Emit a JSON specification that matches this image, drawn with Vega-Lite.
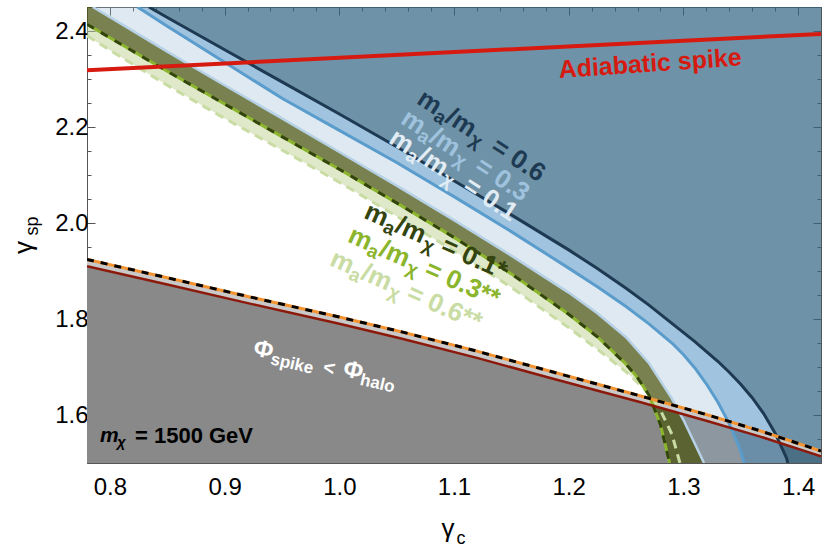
{
  "$schema": "https://vega.github.io/schema/vega-lite/v6.json",
  "width": 734,
  "height": 456,
  "autosize": {"type": "none"},
  "padding": {"left": 87, "top": 7, "right": 9, "bottom": 86},
  "background": "white",
  "config": {"view": {"stroke": "#555", "strokeWidth": 1}, "font": "Liberation Sans", "text": {"font": "Liberation Sans"}},
  "datasets": {
    "red": [{"x":0.78,"y":1.910},{"x":0.85,"y":1.872},{"x":0.922,"y":1.832},{"x":1.0,"y":1.790},{"x":1.053,"y":1.760},{"x":1.12,"y":1.719},{"x":1.184,"y":1.677},{"x":1.262,"y":1.627},{"x":1.32,"y":1.588},{"x":1.367,"y":1.555},{"x":1.42,"y":1.514}],
    "dashed": [{"x":0.78,"y":1.924},{"x":0.85,"y":1.886},{"x":0.922,"y":1.846},{"x":1.0,"y":1.804},{"x":1.053,"y":1.774},{"x":1.12,"y":1.733},{"x":1.184,"y":1.691},{"x":1.262,"y":1.640},{"x":1.32,"y":1.601},{"x":1.367,"y":1.567},{"x":1.42,"y":1.525}],
    "grayband": [{"x":0.78,"y":1.910,"y2":1.924},{"x":0.85,"y":1.872,"y2":1.886},{"x":0.922,"y":1.832,"y2":1.846},{"x":1.0,"y":1.790,"y2":1.804},{"x":1.053,"y":1.760,"y2":1.774},{"x":1.12,"y":1.719,"y2":1.733},{"x":1.184,"y":1.677,"y2":1.691},{"x":1.262,"y":1.627,"y2":1.640},{"x":1.32,"y":1.588,"y2":1.601},{"x":1.367,"y":1.555,"y2":1.567},{"x":1.42,"y":1.514,"y2":1.525}],
    "navy": [{"x":0.834,"y":2.45},{"x":0.85,"y":2.428},{"x":0.90,"y":2.361},{"x":0.95,"y":2.294},{"x":1.0,"y":2.227},{"x":1.05,"y":2.159},{"x":1.10,"y":2.088},{"x":1.15,"y":2.017},{"x":1.20,"y":1.944},{"x":1.225,"y":1.905},{"x":1.25,"y":1.864},{"x":1.27,"y":1.829},{"x":1.29,"y":1.791},{"x":1.31,"y":1.753},{"x":1.33,"y":1.712},{"x":1.34,"y":1.689},{"x":1.35,"y":1.664},{"x":1.36,"y":1.636},{"x":1.37,"y":1.603},{"x":1.38,"y":1.562},{"x":1.39,"y":1.51},{"x":1.391,"y":1.5},{"x":1.42,"y":1.5}],
    "blue03": [{"x":0.824,"y":2.45},{"x":0.85,"y":2.41},{"x":0.90,"y":2.335},{"x":0.95,"y":2.26},{"x":1.0,"y":2.193},{"x":1.05,"y":2.126},{"x":1.10,"y":2.055},{"x":1.15,"y":1.982},{"x":1.20,"y":1.906},{"x":1.225,"y":1.867},{"x":1.25,"y":1.826},{"x":1.27,"y":1.79},{"x":1.29,"y":1.75},{"x":1.30,"y":1.726},{"x":1.31,"y":1.698},{"x":1.32,"y":1.665},{"x":1.33,"y":1.627},{"x":1.34,"y":1.582},{"x":1.35,"y":1.525},{"x":1.353,"y":1.5},{"x":1.42,"y":1.5}],
    "light01": [{"x":0.785,"y":2.45},{"x":0.80,"y":2.429},{"x":0.85,"y":2.357},{"x":0.90,"y":2.287},{"x":0.95,"y":2.218},{"x":1.0,"y":2.148},{"x":1.05,"y":2.078},{"x":1.10,"y":2.006},{"x":1.15,"y":1.932},{"x":1.20,"y":1.855},{"x":1.225,"y":1.812},{"x":1.25,"y":1.762},{"x":1.27,"y":1.708},{"x":1.29,"y":1.634},{"x":1.30,"y":1.59},{"x":1.31,"y":1.54},{"x":1.318,"y":1.5},{"x":1.42,"y":1.5}],
    "green": [{"x":0.78,"y":2.414},{"x":0.80,"y":2.386},{"x":0.85,"y":2.316},{"x":0.90,"y":2.248},{"x":0.95,"y":2.18},{"x":1.0,"y":2.112},{"x":1.05,"y":2.042},{"x":1.10,"y":1.97},{"x":1.15,"y":1.894},{"x":1.20,"y":1.81},{"x":1.225,"y":1.763},{"x":1.25,"y":1.706},{"x":1.26,"y":1.678},{"x":1.27,"y":1.642},{"x":1.28,"y":1.58},{"x":1.288,"y":1.5}],
    "lightgreen": [{"x":0.78,"y":2.39},{"x":0.80,"y":2.36},{"x":0.85,"y":2.287},{"x":0.90,"y":2.218},{"x":0.95,"y":2.152},{"x":1.0,"y":2.085},{"x":1.05,"y":2.014},{"x":1.10,"y":1.942},{"x":1.15,"y":1.866},{"x":1.20,"y":1.782},{"x":1.225,"y":1.737},{"x":1.25,"y":1.69},{"x":1.26,"y":1.668},{"x":1.27,"y":1.643},{"x":1.28,"y":1.61},{"x":1.29,"y":1.56},{"x":1.297,"y":1.5}],
    "oliveband": [{"x":0.78,"y":2.414,"y2":2.45},{"x":0.785,"y":2.407,"y2":2.45},{"x":0.80,"y":2.386,"y2":2.429},{"x":0.85,"y":2.316,"y2":2.357},{"x":0.90,"y":2.248,"y2":2.287},{"x":0.95,"y":2.18,"y2":2.218},{"x":1.0,"y":2.112,"y2":2.148},{"x":1.05,"y":2.042,"y2":2.078},{"x":1.10,"y":1.97,"y2":2.006},{"x":1.15,"y":1.894,"y2":1.932},{"x":1.20,"y":1.81,"y2":1.855},{"x":1.225,"y":1.763,"y2":1.812},{"x":1.25,"y":1.706,"y2":1.762},{"x":1.26,"y":1.678,"y2":1.736},{"x":1.27,"y":1.642,"y2":1.708},{"x":1.28,"y":1.58,"y2":1.672},{"x":1.288,"y":1.5,"y2":1.642},{"x":1.29,"y":1.5,"y2":1.634},{"x":1.30,"y":1.5,"y2":1.59},{"x":1.31,"y":1.5,"y2":1.54},{"x":1.318,"y":1.5,"y2":1.5}],
    "lgband": [{"x":0.78,"y":2.39,"y2":2.414},{"x":0.80,"y":2.36,"y2":2.386},{"x":0.85,"y":2.287,"y2":2.316},{"x":0.90,"y":2.218,"y2":2.248},{"x":0.95,"y":2.152,"y2":2.18},{"x":1.0,"y":2.085,"y2":2.112},{"x":1.05,"y":2.014,"y2":2.042},{"x":1.10,"y":1.942,"y2":1.97},{"x":1.15,"y":1.866,"y2":1.894},{"x":1.20,"y":1.782,"y2":1.81},{"x":1.225,"y":1.737,"y2":1.763},{"x":1.25,"y":1.69,"y2":1.706},{"x":1.26,"y":1.668,"y2":1.678},{"x":1.265,"y":1.656,"y2":1.66}],
    "adiabatic": [{"x":0.78,"y":2.318},{"x":1.42,"y":2.394}],
    "dummy": [{"x":1.0,"y":2.0}]
  },
  "encoding": {
    "x": {"field": "x", "type": "quantitative", "scale": {"domain": [0.78, 1.42], "nice": false, "zero": false}, "axis": null},
    "y": {"field": "y", "type": "quantitative", "scale": {"domain": [1.5, 2.45], "nice": false, "zero": false}, "axis": null}
  },
  "layer": [
    {"data": {"name": "red"}, "mark": {"type": "area", "color": "#898989", "clip": true}, "encoding": {"y2": {"datum": 1.5}}},
    {"data": {"name": "light01"}, "mark": {"type": "area", "color": "#98b8d2", "opacity": 0.31, "clip": true}, "encoding": {"y2": {"datum": 2.45}}},
    {"data": {"name": "blue03"}, "mark": {"type": "area", "color": "#267fbd", "opacity": 0.34, "clip": true}, "encoding": {"y2": {"datum": 2.45}}},
    {"data": {"name": "navy"}, "mark": {"type": "area", "color": "#173b44", "opacity": 0.36, "clip": true}, "encoding": {"y2": {"datum": 2.45}}},
    {"data": {"name": "oliveband"}, "mark": {"type": "area", "color": "#4d5715", "opacity": 0.75, "clip": true}, "encoding": {"y2": {"field": "y2"}}},
    {"data": {"name": "lgband"}, "mark": {"type": "area", "color": "#bfd191", "opacity": 0.5, "clip": true}, "encoding": {"y2": {"field": "y2"}}},
    {"data": {"name": "grayband"}, "mark": {"type": "area", "color": "#c9c9c9", "clip": true}, "encoding": {"y2": {"field": "y2"}}},
    {"data": {"name": "light01"}, "transform": [{"filter": "datum.x < 1.4"}], "mark": {"type": "line", "color": "#b7d2e6", "strokeWidth": 2.5, "clip": true}, "encoding": {}},
    {"data": {"name": "blue03"}, "transform": [{"filter": "datum.x < 1.4"}], "mark": {"type": "line", "color": "#5a9ccc", "strokeWidth": 3, "clip": true}, "encoding": {}},
    {"data": {"name": "navy"}, "transform": [{"filter": "datum.x < 1.41"}], "mark": {"type": "line", "color": "#1e3a52", "strokeWidth": 3, "clip": true}, "encoding": {}},
    {"data": {"name": "lightgreen"}, "mark": {"type": "line", "color": "#c9dca3", "strokeWidth": 3, "strokeDash": [9, 6], "clip": true}, "encoding": {}},
    {"data": {"name": "green"}, "mark": {"type": "line", "color": "#8bb52c", "strokeWidth": 3, "clip": true}, "encoding": {}},
    {"data": {"name": "green"}, "mark": {"type": "line", "color": "#34440f", "strokeWidth": 3, "strokeDash": [8, 8], "clip": true}, "encoding": {}},
    {"data": {"name": "red"}, "mark": {"type": "line", "color": "#8b1a0c", "strokeWidth": 2.5, "clip": true}, "encoding": {}},
    {"data": {"name": "dashed"}, "mark": {"type": "line", "color": "#f59331", "strokeWidth": 3, "clip": true}, "encoding": {}},
    {"data": {"name": "dashed"}, "mark": {"type": "line", "color": "#000000", "strokeWidth": 3, "strokeDash": [7, 7], "clip": true}, "encoding": {}},
    {"data": {"name": "adiabatic"}, "mark": {"type": "line", "color": "#d71a10", "strokeWidth": 4, "clip": true}, "encoding": {}},
    {"data": {"values": [{"x": 1.271, "y": 2.332}]}, "mark": {"type": "text", "text": "Adiabatic spike", "angle": 356, "fontSize": 25, "fontWeight": "bold", "color": "#d71a10", "align": "center", "baseline": "middle"}, "encoding": {}},
    {"data": {"values": [{"x": 1.0703, "y": 2.2646}]}, "layer": [
      {"mark": {"type": "text", "text": "m", "angle": 33, "fontSize": 26, "fontWeight": "bold", "color": "#1e3a52", "align": "left", "baseline": "middle"}, "encoding": {}},
      {"mark": {"type": "text", "text": "a", "dx": 23, "dy": 7, "angle": 33, "fontSize": 19, "fontWeight": "bold", "color": "#1e3a52", "align": "left", "baseline": "middle"}, "encoding": {}},
      {"mark": {"type": "text", "text": "/m", "dx": 34, "angle": 33, "fontSize": 26, "fontWeight": "bold", "color": "#1e3a52", "align": "left", "baseline": "middle"}, "encoding": {}},
      {"mark": {"type": "text", "text": "χ", "dx": 66, "dy": 7, "angle": 33, "fontSize": 19, "fontWeight": "bold", "color": "#1e3a52", "align": "left", "baseline": "middle"}, "encoding": {}},
      {"mark": {"type": "text", "text": "= 0.6", "dx": 88, "angle": 33, "fontSize": 26, "fontWeight": "bold", "color": "#1e3a52", "align": "left", "baseline": "middle"}, "encoding": {}}
    ]},
    {"data": {"values": [{"x": 1.0563, "y": 2.2236}]}, "layer": [
      {"mark": {"type": "text", "text": "m", "angle": 33, "fontSize": 26, "fontWeight": "bold", "color": "#9fc3de", "align": "left", "baseline": "middle"}, "encoding": {}},
      {"mark": {"type": "text", "text": "a", "dx": 23, "dy": 7, "angle": 33, "fontSize": 19, "fontWeight": "bold", "color": "#9fc3de", "align": "left", "baseline": "middle"}, "encoding": {}},
      {"mark": {"type": "text", "text": "/m", "dx": 34, "angle": 33, "fontSize": 26, "fontWeight": "bold", "color": "#9fc3de", "align": "left", "baseline": "middle"}, "encoding": {}},
      {"mark": {"type": "text", "text": "χ", "dx": 66, "dy": 7, "angle": 33, "fontSize": 19, "fontWeight": "bold", "color": "#9fc3de", "align": "left", "baseline": "middle"}, "encoding": {}},
      {"mark": {"type": "text", "text": "= 0.3", "dx": 88, "angle": 33, "fontSize": 26, "fontWeight": "bold", "color": "#9fc3de", "align": "left", "baseline": "middle"}, "encoding": {}}
    ]},
    {"data": {"values": [{"x": 1.0459, "y": 2.1826}]}, "layer": [
      {"mark": {"type": "text", "text": "m", "angle": 33, "fontSize": 26, "fontWeight": "bold", "color": "#e2ecf4", "align": "left", "baseline": "middle"}, "encoding": {}},
      {"mark": {"type": "text", "text": "a", "dx": 23, "dy": 7, "angle": 33, "fontSize": 19, "fontWeight": "bold", "color": "#e2ecf4", "align": "left", "baseline": "middle"}, "encoding": {}},
      {"mark": {"type": "text", "text": "/m", "dx": 34, "angle": 33, "fontSize": 26, "fontWeight": "bold", "color": "#e2ecf4", "align": "left", "baseline": "middle"}, "encoding": {}},
      {"mark": {"type": "text", "text": "χ", "dx": 66, "dy": 7, "angle": 33, "fontSize": 19, "fontWeight": "bold", "color": "#e2ecf4", "align": "left", "baseline": "middle"}, "encoding": {}},
      {"mark": {"type": "text", "text": "= 0.1", "dx": 88, "angle": 33, "fontSize": 26, "fontWeight": "bold", "color": "#e2ecf4", "align": "left", "baseline": "middle"}, "encoding": {}}
    ]},
    {"data": {"values": [{"x": 1.0232, "y": 2.0267}]}, "layer": [
      {"mark": {"type": "text", "text": "m", "angle": 24, "fontSize": 26, "fontWeight": "bold", "color": "#34440f", "align": "left", "baseline": "middle"}, "encoding": {}},
      {"mark": {"type": "text", "text": "a", "dx": 23, "dy": 7, "angle": 24, "fontSize": 19, "fontWeight": "bold", "color": "#34440f", "align": "left", "baseline": "middle"}, "encoding": {}},
      {"mark": {"type": "text", "text": "/m", "dx": 34, "angle": 24, "fontSize": 26, "fontWeight": "bold", "color": "#34440f", "align": "left", "baseline": "middle"}, "encoding": {}},
      {"mark": {"type": "text", "text": "χ", "dx": 66, "dy": 7, "angle": 24, "fontSize": 19, "fontWeight": "bold", "color": "#34440f", "align": "left", "baseline": "middle"}, "encoding": {}},
      {"mark": {"type": "text", "text": "= 0.1*", "dx": 84, "angle": 24, "fontSize": 26, "fontWeight": "bold", "color": "#34440f", "align": "left", "baseline": "middle"}, "encoding": {}}
    ]},
    {"data": {"values": [{"x": 1.0092, "y": 1.9774}]}, "layer": [
      {"mark": {"type": "text", "text": "m", "angle": 24, "fontSize": 26, "fontWeight": "bold", "color": "#8bb52c", "align": "left", "baseline": "middle"}, "encoding": {}},
      {"mark": {"type": "text", "text": "a", "dx": 23, "dy": 7, "angle": 24, "fontSize": 19, "fontWeight": "bold", "color": "#8bb52c", "align": "left", "baseline": "middle"}, "encoding": {}},
      {"mark": {"type": "text", "text": "/m", "dx": 34, "angle": 24, "fontSize": 26, "fontWeight": "bold", "color": "#8bb52c", "align": "left", "baseline": "middle"}, "encoding": {}},
      {"mark": {"type": "text", "text": "χ", "dx": 66, "dy": 7, "angle": 24, "fontSize": 19, "fontWeight": "bold", "color": "#8bb52c", "align": "left", "baseline": "middle"}, "encoding": {}},
      {"mark": {"type": "text", "text": "= 0.3**", "dx": 84, "angle": 24, "fontSize": 26, "fontWeight": "bold", "color": "#8bb52c", "align": "left", "baseline": "middle"}, "encoding": {}}
    ]},
    {"data": {"values": [{"x": 0.9935, "y": 1.9282}]}, "layer": [
      {"mark": {"type": "text", "text": "m", "angle": 24, "fontSize": 26, "fontWeight": "bold", "color": "#c9dca3", "align": "left", "baseline": "middle"}, "encoding": {}},
      {"mark": {"type": "text", "text": "a", "dx": 23, "dy": 7, "angle": 24, "fontSize": 19, "fontWeight": "bold", "color": "#c9dca3", "align": "left", "baseline": "middle"}, "encoding": {}},
      {"mark": {"type": "text", "text": "/m", "dx": 34, "angle": 24, "fontSize": 26, "fontWeight": "bold", "color": "#c9dca3", "align": "left", "baseline": "middle"}, "encoding": {}},
      {"mark": {"type": "text", "text": "χ", "dx": 66, "dy": 7, "angle": 24, "fontSize": 19, "fontWeight": "bold", "color": "#c9dca3", "align": "left", "baseline": "middle"}, "encoding": {}},
      {"mark": {"type": "text", "text": "= 0.6**", "dx": 84, "angle": 24, "fontSize": 26, "fontWeight": "bold", "color": "#c9dca3", "align": "left", "baseline": "middle"}, "encoding": {}}
    ]},
    {"data": {"values": [{"x": 0.9255, "y": 1.7395}]}, "layer": [
      {"mark": {"type": "text", "text": "Φ", "angle": 13, "fontSize": 24, "fontWeight": "bold", "color": "#ffffff", "align": "left", "baseline": "middle"}, "encoding": {}},
      {"mark": {"type": "text", "text": "spike", "dx": 19, "dy": 7, "angle": 13, "fontSize": 17, "fontWeight": "bold", "color": "#ffffff", "align": "left", "baseline": "middle"}, "encoding": {}},
      {"mark": {"type": "text", "text": "<", "dx": 72, "dy": 3, "angle": 13, "fontSize": 20, "fontWeight": "bold", "color": "#ffffff", "align": "left", "baseline": "middle"}, "encoding": {}},
      {"mark": {"type": "text", "text": "Φ", "dx": 92, "angle": 13, "fontSize": 24, "fontWeight": "bold", "color": "#ffffff", "align": "left", "baseline": "middle"}, "encoding": {}},
      {"mark": {"type": "text", "text": "halo", "dx": 111, "dy": 7, "angle": 13, "fontSize": 17, "fontWeight": "bold", "color": "#ffffff", "align": "left", "baseline": "middle"}, "encoding": {}}
    ]},
    {"data": {"values": [{"x": 0.7913, "y": 1.557}]}, "layer": [
      {"mark": {"type": "text", "text": "m", "fontSize": 21, "fontWeight": "bold", "fontStyle": "italic", "color": "#000000", "align": "left", "baseline": "middle"}, "encoding": {}},
      {"mark": {"type": "text", "text": "χ", "dx": 17, "dy": 6, "fontSize": 15, "fontWeight": "bold", "fontStyle": "italic", "color": "#000000", "align": "left", "baseline": "middle"}, "encoding": {}},
      {"mark": {"type": "text", "text": "= 1500 GeV", "dx": 35, "fontSize": 22, "fontWeight": "bold", "color": "#000000", "align": "left", "baseline": "middle"}, "encoding": {}}
    ]},
    {"data": {"values": [{"x": 1.0947, "y": 1.362}]}, "mark": {"type": "text", "text": "γ", "fontSize": 26, "color": "#000000", "align": "center", "baseline": "middle"}, "encoding": {}},
    {"data": {"values": [{"x": 1.106, "y": 1.342}]}, "mark": {"type": "text", "text": "c", "fontSize": 18, "color": "#000000", "align": "center", "baseline": "middle"}, "encoding": {}},
    {"data": {"values": [{"x": 0.725, "y": 1.949}]}, "mark": {"type": "text", "text": "γ", "angle": 270, "fontSize": 26, "color": "#000000", "align": "center", "baseline": "middle"}, "encoding": {}},
    {"data": {"values": [{"x": 0.7329, "y": 1.994}]}, "mark": {"type": "text", "text": "sp", "angle": 270, "fontSize": 18, "color": "#000000", "align": "center", "baseline": "middle"}, "encoding": {}},
    {"data": {"name": "dummy"}, "mark": {"type": "point", "opacity": 0},
     "encoding": {
       "x": {"field": "x", "type": "quantitative", "axis": {"orient": "bottom", "title": null, "domain": false, "grid": false,
         "values": [0.78,0.8,0.82,0.84,0.86,0.88,0.9,0.92,0.94,0.96,0.98,1.0,1.02,1.04,1.06,1.08,1.1,1.12,1.14,1.16,1.18,1.2,1.22,1.24,1.26,1.28,1.3,1.32,1.34,1.36,1.38,1.4,1.42],
         "labelExpr": "abs(datum.value*10-round(datum.value*10))<0.001 ? format(datum.value,'.1f') : ''",
         "tickSize": {"condition": {"test": "abs(datum.value*10-round(datum.value*10))<0.001", "value": -8}, "value": -4},
         "tickColor": "#555", "labelFontSize": 24, "labelColor": "#000", "labelFont": "Liberation Sans", "labelPadding": 20, "labelFlush": false, "labelOverlap": false, "labelBound": false}},
       "y": {"field": "y", "type": "quantitative", "axis": {"orient": "left", "title": null, "domain": false, "grid": false,
         "values": [1.5,1.55,1.6,1.65,1.7,1.75,1.8,1.85,1.9,1.95,2.0,2.05,2.1,2.15,2.2,2.25,2.3,2.35,2.4,2.45],
         "labelExpr": "abs(datum.value*5-round(datum.value*5))<0.001 ? format(datum.value,'.1f') : ''",
         "tickSize": {"condition": {"test": "abs(datum.value*5-round(datum.value*5))<0.001", "value": -8}, "value": -4},
         "tickColor": "#555", "labelFontSize": 24, "labelColor": "#000", "labelFont": "Liberation Sans", "labelPadding": 7, "labelFlush": false, "labelOverlap": false, "labelBound": false}}
     }},
    {"data": {"name": "dummy"}, "mark": {"type": "point", "opacity": 0},
     "encoding": {
       "x": {"field": "x", "type": "quantitative", "axis": {"orient": "top", "title": null, "domain": false, "grid": false, "labels": false,
         "values": [0.78,0.8,0.82,0.84,0.86,0.88,0.9,0.92,0.94,0.96,0.98,1.0,1.02,1.04,1.06,1.08,1.1,1.12,1.14,1.16,1.18,1.2,1.22,1.24,1.26,1.28,1.3,1.32,1.34,1.36,1.38,1.4,1.42],
         "tickSize": {"condition": {"test": "abs(datum.value*10-round(datum.value*10))<0.001", "value": -8}, "value": -4},
         "tickColor": "#555"}},
       "y": {"field": "y", "type": "quantitative", "axis": {"orient": "right", "title": null, "domain": false, "grid": false, "labels": false,
         "values": [1.5,1.55,1.6,1.65,1.7,1.75,1.8,1.85,1.9,1.95,2.0,2.05,2.1,2.15,2.2,2.25,2.3,2.35,2.4,2.45],
         "tickSize": {"condition": {"test": "abs(datum.value*5-round(datum.value*5))<0.001", "value": -8}, "value": -4},
         "tickColor": "#555"}}
     }}
  ],
  "resolve": {"axis": {"x": "independent", "y": "independent"}}
}
